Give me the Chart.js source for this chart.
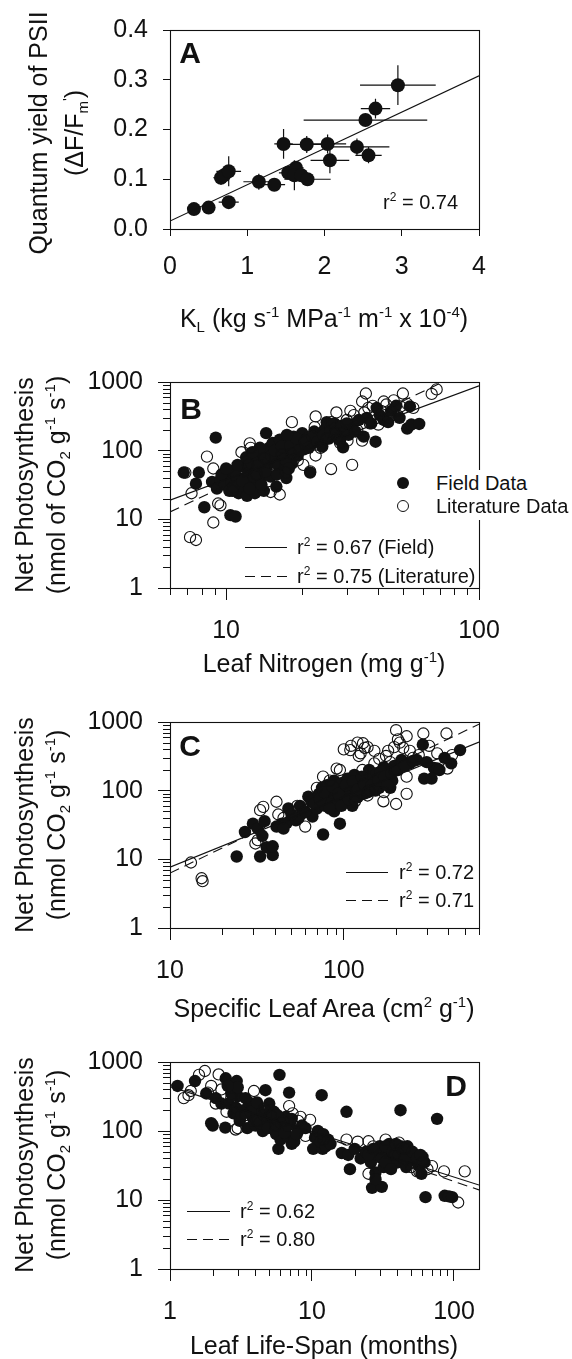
<!DOCTYPE html>
<html>
<head>
<meta charset="utf-8">
<script src="https://cdn.jsdelivr.net/npm/chart.js@4.4.1/dist/chart.umd.min.js"></script>
<style>
body { margin: 0; background: #fff; }
#page { position: relative; width: 572px; height: 1359px; overflow: hidden; color: #111;
        font-family: "Liberation Sans", Arial, Helvetica, sans-serif; }
canvas { position: absolute; left: 0; }
.yt, .xt { position: absolute; font-size: 25px; line-height: 1; white-space: nowrap; }
.yt { transform: translate(-50%, -50%) rotate(-90deg); }
.xt { transform: translate(-50%, -50%); }
.let { position: absolute; font-size: 30px; font-weight: bold; line-height: 1; transform: translate(-50%, -50%); }
.r2 { position: absolute; font-size: 20px; line-height: 1; white-space: nowrap; transform: translateY(-50%); }
.leg { position: absolute; font-size: 20px; line-height: 1; white-space: nowrap; transform: translateY(-50%); }
.sp { font-size: 0.6em; position: relative; top: -0.7em; }
.sb { font-size: 0.6em; position: relative; top: 0.35em; }
.ln { position: absolute; height: 1px; background: #111; }
.dash { position: absolute; height: 1px; background: repeating-linear-gradient(90deg, #111 0 10px, transparent 10px 16px); }
.dot { position: absolute; width: 12px; height: 12px; border-radius: 50%; transform: translate(-50%, -50%); box-sizing: border-box; }
</style>
</head>
<body>
<div id="page">
  <canvas id="cA" width="572" height="340" style="top:0"></canvas>
  <canvas id="cB" width="572" height="340" style="top:340px"></canvas>
  <canvas id="cC" width="572" height="340" style="top:680px"></canvas>
  <canvas id="cD" width="572" height="339" style="top:1020px"></canvas>

  <!-- panel A text -->
  <div class="yt" style="left:38px;top:133px">Quantum yield of PSII</div>
  <div class="yt" style="left:74px;top:133px">(&Delta;F/F<span class="sb">m</span><span class="sp">'</span>)</div>
  <div class="xt" style="left:324px;top:318px">K<span class="sb">L</span> (kg s<span class="sp">-1</span> MPa<span class="sp">-1</span> m<span class="sp">-1</span> x 10<span class="sp">-4</span>)</div>
  <div class="let" style="left:190px;top:53px">A</div>
  <div class="r2" style="left:383px;top:202px">r<span class="sp">2</span> = 0.74</div>

  <!-- panel B text -->
  <div class="yt" style="left:24px;top:485px">Net Photosynthesis</div>
  <div class="yt" style="left:56px;top:485px">(nmol of CO<span class="sb">2</span> g<span class="sp">-1</span> s<span class="sp">-1</span>)</div>
  <div class="xt" style="left:324px;top:663px">Leaf Nitrogen (mg g<span class="sp">-1</span>)</div>
  <div class="let" style="left:191px;top:409px">B</div>
  <div style="position:absolute;left:392px;top:470px;width:175px;height:50px;background:#fff"></div>
  <div class="dot" style="left:403px;top:483px;background:#111"></div>
  <div class="dot" style="left:403px;top:506px;border:1.2px solid #111;background:#fff"></div>
  <div class="leg" style="left:436px;top:483px">Field Data</div>
  <div class="leg" style="left:436px;top:506px">Literature Data</div>
  <div class="ln" style="left:245px;top:547px;width:42px"></div>
  <div class="dash" style="left:245px;top:576px;width:42px"></div>
  <div class="r2" style="left:297px;top:547px">r<span class="sp">2</span> = 0.67 (Field)</div>
  <div class="r2" style="left:297px;top:576px">r<span class="sp">2</span> = 0.75 (Literature)</div>

  <!-- panel C text -->
  <div class="yt" style="left:24px;top:825px">Net Photosynthesis</div>
  <div class="yt" style="left:56px;top:825px">(nmol CO<span class="sb">2</span> g<span class="sp">-1</span> s<span class="sp">-1</span>)</div>
  <div class="xt" style="left:324px;top:1008px">Specific Leaf Area (cm<span class="sp">2</span> g<span class="sp">-1</span>)</div>
  <div class="let" style="left:190px;top:746px">C</div>
  <div class="ln" style="left:346px;top:872px;width:42px"></div>
  <div class="dash" style="left:346px;top:900px;width:42px"></div>
  <div class="r2" style="left:399px;top:872px">r<span class="sp">2</span> = 0.72</div>
  <div class="r2" style="left:399px;top:900px">r<span class="sp">2</span> = 0.71</div>

  <!-- panel D text -->
  <div class="yt" style="left:24px;top:1165px">Net Photosynthesis</div>
  <div class="yt" style="left:56px;top:1165px">(nmol CO<span class="sb">2</span> g<span class="sp">-1</span> s<span class="sp">-1</span>)</div>
  <div class="xt" style="left:324px;top:1345px">Leaf Life-Span (months)</div>
  <div class="let" style="left:456px;top:1086px">D</div>
  <div class="ln" style="left:187px;top:1211px;width:43px"></div>
  <div class="dash" style="left:187px;top:1239px;width:43px"></div>
  <div class="r2" style="left:240px;top:1211px">r<span class="sp">2</span> = 0.62</div>
  <div class="r2" style="left:240px;top:1239px">r<span class="sp">2</span> = 0.80</div>
</div>

<script>
// ---- data ----
// A: leaf hydraulic conductance vs quantum yield, [KL, yield, KL error, yield error]
var aPoints = [
  [0.31, 0.040, 0.03, 0.004], [0.50, 0.043, 0.03, 0.004], [0.76, 0.054, 0.13, 0.006],
  [0.66, 0.103, 0.10, 0.014], [0.70, 0.108, 0.08, 0.012], [0.76, 0.116, 0.16, 0.030],
  [1.15, 0.095, 0.20, 0.016], [1.35, 0.089, 0.14, 0.005], [1.47, 0.171, 0.12, 0.030],
  [1.77, 0.170, 0.25, 0.017], [2.04, 0.171, 0.24, 0.019], [2.07, 0.138, 0.25, 0.026],
  [2.42, 0.165, 0.42, 0.017], [2.57, 0.148, 0.17, 0.016], [2.53, 0.219, 0.80, 0.006],
  [2.66, 0.242, 0.19, 0.020], [2.95, 0.289, 0.49, 0.040], [1.53, 0.113, 0.12, 0.010],
  [1.63, 0.123, 0.10, 0.008], [1.61, 0.108, 0.15, 0.030], [1.70, 0.108, 0.15, 0.010],
  [1.78, 0.100, 0.30, 0.008]
];
var aFitX = [0, 4];
var aFitY = [0.016, 0.308];

// B: leaf nitrogen (mg/g) vs net photosynthesis
var bField = [
  [6.8,48],[7.8,48],[7.6,33],[9.1,155],[8.2,15],[10.4,11.5],[10.9,11],
  [8.8,35],[9.2,28],[9.5,38],[9.9,32],[10.1,45],[10.3,26],[10.5,36],[10.8,52],[11.0,42],[11.2,24],
  [11.4,31],[11.7,58],[11.9,40],[12.1,22],[12.3,48],[12.6,66],[12.8,33],[13.0,24],[13.2,52],[13.5,75],
  [13.7,40],[14.0,90],[14.1,26],[14.4,180],[14.5,58],[14.8,110],[15.0,42],[15.3,130],[15.5,70],[15.8,30],
  [16.0,95],[16.3,145],[16.5,55],[16.8,80],[17.0,120],[17.3,40],[17.6,100],[17.9,140],[18.2,65],[18.5,160],
  [18.8,110],[19.2,85],[19.6,130],[20.0,180],[20.4,105],[20.9,150],[21.5,48],[21.8,125],[22.3,190],[22.8,140],
  [23.4,170],[24.0,115],[24.5,200],[25.0,260],[25.5,150],[26.0,220],[26.8,250],[27.5,180],[28.2,140],[29.0,112],
  [29.5,210],[30.5,170],[31.5,240],[32.5,190],[33.5,280],[35.0,160],[36.0,300],[37.5,250],[39.0,135],[39.4,420],
  [40.5,330],[42.0,280],[43.7,260],[45.0,380],[47.0,450],[48.5,300],[52.0,210],[53.3,440],[54.0,240],[58.0,245],
  [9.6,45],[10.0,55],[10.7,30],[11.1,62],[11.6,36],[12.0,80],[12.4,28],[12.9,42],[13.3,60],[13.8,32],
  [14.3,50],[14.7,68],[15.1,85],[15.6,100],[16.1,60],[16.6,115],[17.1,75],[17.7,55],[18.0,120],[18.6,90],
  [19.0,150],[19.5,100],[20.5,130],[21.2,110],[22.0,160],[23.0,135],[24.2,170],[25.8,190],[27.0,210],
  [28.5,230],[30.0,250],[13.6,110],[12.7,95],[15.9,45],[17.4,170]
];
var bLit = [
  [6.9,48],[7.3,24],[7.2,5.5],[7.6,5.0],[8.4,82],[8.9,9],[8.9,55],[9.3,17],[9.5,16],[10.6,26],[11.5,95],
  [12.4,128],[12.5,110],[12.2,62],[13.2,45],[14.2,78],[15.0,25],[16.3,23],[15.6,62],[16.6,88],[17.2,48],
  [18.2,260],[18.1,90],[19.2,72],[20.2,62],[21.5,50],[22.6,315],[22.6,85],[22.4,220],[23.6,110],[25.0,150],
  [26.0,54],[27.3,360],[27.0,180],[28.2,130],[29.2,185],[30.2,140],[31.0,380],[31.5,62],[33.0,200],[34.5,520],
  [34.5,140],[35.2,360],[35.7,680],[37.0,250],[38.0,450],[40.0,240],[41.0,380],[43.0,470],[45.0,370],[46.0,540],
  [48.0,320],[50.0,680],[52.0,480],[55.0,420],[65.0,670],[68.0,780],[30.0,280],[26.0,260],[20.5,140],[36.5,420],
  [42.0,520],[44.0,300],[49.0,440],[32.0,330]
];
var bFieldFitX = [6, 100], bFieldFitY = [19, 880];
var bLitFitX = [6, 100], bLitFitY = [12.8, 1780];

// C: specific leaf area (cm2/g) vs net photosynthesis
var cField = [
  [24.2,11],[33,11],[39,11.5],[36,15],[39,15.5],[27,25],[30,33],[32,28],[34,22],[35,36],[41,30],[44,33],
  [47,34],[53,37],[48,55],[56,60],[62.5,82],[58,47],[66,42],[76,23],[80,85],[88,50],[95,33],
  [65,70],[70,55],[72,90],[75,110],[78,60],[80,120],[82,75],[85,95],[88,140],[90,62],[92,110],[95,80],
  [98,130],[100,100],[102,70],[105,150],[108,90],[110,120],[112,60],[115,170],[118,100],[120,80],[123,140],
  [126,110],[130,90],[133,160],[136,120],[140,200],[143,100],[146,150],[150,130],[155,180],[160,110],
  [165,150],[170,220],[175,130],[180,170],[185,110],[190,140],
  [215,280],[240,250],[263,280],[285,470],[290,150],[330,215],[345,210],[355,200],[415,250],[467,390],
  [300,260],[380,300],[320,150],
  [68,65],[73,75],[77,95],[83,55],[86,115],[93,90],[97,60],[103,120],[107,75],[113,135],[117,85],
  [121,105],[127,160],[131,125],[138,95],[145,120],[152,100],[158,140],[163,190],[172,160],[178,120],
  [188,180],[195,230],[205,200],[225,230],[250,270],[55,40],[60,50],[45,28],[50,45]
];
var cLit = [
  [13.2,9],[15.2,5.3],[15.4,4.8],[34.4,58],[33,52],[41,69],[42,45],[31,17],[32,19],[54,60],[76,160],
  [91,210],[109,390],[129,490],[137,430],[200,760],[205,560],[195,430],[287,680],[390,680],[345,350],
  [395,210],[230,160],[230,90],[200,64],[169,70],[137,85],[116,70],[140,100],[170,95],[100,400],[122,320],
  [160,290],[128,200],[195,200],[95,200],[83,140],[110,450],[120,500],[125,350],[132,420],[150,380],
  [175,320],[180,380],[210,500],[220,420],[240,380],[250,300],[270,330],[310,450],[230,620],[420,330],
  [60,30],[45,40],[70,110],[150,250],[185,260]
];
var cFieldFitX = [10, 600], cFieldFitY = [7.7, 510];
var cLitFitX = [10, 600], cLitFitY = [6.3, 930];

// D: leaf life-span (months) vs net photosynthesis
var dField = [
  [1.13,450],[1.5,530],[1.95,130],[2.0,120],[2.45,112],[2.47,580],[2.95,530],[5.9,650],[6.9,360],[4.7,390],
  [11.7,330],[17.5,190],[42,200],[76,150],[18.5,28],[26.5,15],[31,15.5],[63,11],[86,11.5],[92,11.3],[97,11],
  [59,24],[5.8,55],[7.2,65],[10.2,55],[11.9,55],[16.2,48],
  [1.8,350],[2.1,300],[2.3,250],[2.6,250],[2.8,180],[3.0,320],[3.1,140],[3.3,200],[3.5,110],[3.6,260],
  [3.8,160],[4.0,120],[4.2,220],[4.4,180],[4.5,100],[4.8,150],[5.0,250],[5.2,120],[5.4,190],[5.6,90],
  [5.8,140],[6.0,75],[6.2,110],[6.5,160],[6.7,85],[7.0,130],[7.5,70],[8.0,100],[8.5,120],[9.0,110],
  [10.5,80],[11,100],[11.5,70],[12,90],[12.5,60],[13,75],[13.5,65],
  [18,45],[20,55],[22,40],[24,50],[26,35],[28,25],[29,45],[30,60],[32,30],[34,50],[35,65],[36,40],
  [38,55],[40,35],[42,60],[44,45],[46,30],[48,50],[50,38],[53,45],[56,32],[60,42],[62,35],[28,20],
  [2.7,350],[2.9,220],[3.2,170],[3.4,300],[3.7,190],[3.9,140],[4.1,260],[4.3,130],[4.6,170],[4.9,110],
  [5.1,200],[5.3,160],[5.5,100],[5.7,170],[6.1,130],[6.4,95],[6.8,120],[7.2,150],[7.8,90],[3.0,430],
  [2.55,450],[25,45],[27,55],[31,40],[33,60],[37,50],[39,65],[41,45],[43,55],[45,40],[47,60],[51,50],
  [55,40],[58,45],[33,35],[36,28]
];
var dLit = [
  [1.76,740],[1.6,650],[2.2,660],[1.35,330],[1.4,380],[1.95,450],[1.85,360],[2.1,250],[2.5,190],[2.9,105],
  [3.9,380],[6.9,230],[9.7,145],[8.3,160],[9.0,85],[17.5,75],[25,71],[41,68],[25,24],[70,31],[85,26],
  [119,26],[107,9.2],[55,26],[12,75],[2.3,400],[2.7,300],[3.2,230],[3.4,170],[4.1,140],[4.6,210],
  [5.1,170],[5.5,120],[6.3,140],[7.3,180],[8.0,140],[21,70],[27,60],[33,75],[38,45],[45,55],[50,30],
  [57,26],[65,28],[60,35],[3.0,110],[1.25,300]
];
var dFieldFitX = [1, 150], dFieldFitY = [440, 16.5];
var dLitFitX = [1, 150], dLitFitY = [470, 14];

// tick values
var aXTicks = [0, 1, 2, 3, 4];
var aYTicks = [0, 0.1, 0.2, 0.3, 0.4];
var logYMajor = [1, 10, 100, 1000];
var logYMinor = [2,3,4,5,6,7,8,9,20,30,40,50,60,70,80,90,200,300,400,500,600,700,800,900];
var bXMajor = [10, 100];
var bXMinor = [6,7,8,9,20,30,40,50,60,70,80,90];
var cXMajor = [10, 100];
var cXMinor = [20,30,40,50,60,70,80,90,200,300,400,500,600];
var dXMajor = [1, 10, 100];
var dXMinor = [2,3,4,5,6,7,8,9,20,30,40,50,60,70,80,90];

var INK = '#111';
var FONT = '"Liberation Sans", Arial, Helvetica, sans-serif';

// frame round the plot area
var boxPlugin = {
  id: 'box',
  afterDatasetsDraw: function (chart) {
    var a = chart.chartArea, ctx = chart.ctx;
    ctx.save();
    ctx.strokeStyle = INK;
    ctx.lineWidth = 1.1;
    ctx.strokeRect(Math.round(a.left) + 0.5, Math.round(a.top) + 0.5, Math.round(a.right - a.left), Math.round(a.bottom - a.top));
    ctx.restore();
  }
};

// short outside ticks for the log axes
var minorPlugin = {
  id: 'minorTicks',
  afterDraw: function (chart, args, o) {
    if (!o || !o.len) return;
    var a = chart.chartArea, ctx = chart.ctx, sx = chart.scales.x, sy = chart.scales.y;
    ctx.save();
    ctx.strokeStyle = INK;
    ctx.lineWidth = 1;
    ctx.beginPath();
    (o.x || []).forEach(function (v) {
      var p = Math.round(sx.getPixelForValue(v)) + 0.5;
      ctx.moveTo(p, a.bottom); ctx.lineTo(p, a.bottom + o.len);
    });
    (o.y || []).forEach(function (v) {
      var p = Math.round(sy.getPixelForValue(v)) + 0.5;
      ctx.moveTo(a.left - o.len, p); ctx.lineTo(a.left, p);
    });
    ctx.stroke();
    ctx.restore();
  }
};

// error bars for panel A
var errPlugin = {
  id: 'errorBars',
  beforeDatasetsDraw: function (chart, args, o) {
    if (!o || !o.points) return;
    var ctx = chart.ctx, sx = chart.scales.x, sy = chart.scales.y;
    ctx.save();
    ctx.strokeStyle = INK;
    ctx.lineWidth = 1.2;
    ctx.beginPath();
    o.points.forEach(function (p) {
      var x = sx.getPixelForValue(p[0]), y = sy.getPixelForValue(p[1]);
      ctx.moveTo(sx.getPixelForValue(p[0] - p[2]), y); ctx.lineTo(sx.getPixelForValue(p[0] + p[2]), y);
      ctx.moveTo(x, sy.getPixelForValue(p[1] - p[3])); ctx.lineTo(x, sy.getPixelForValue(p[1] + p[3]));
    });
    ctx.stroke();
    ctx.restore();
  }
};

function pts(arr) {
  return arr.map(function (p) { return { x: p[0], y: p[1] }; });
}

function fitLine(xs, ys, dash) {
  return {
    data: [{ x: xs[0], y: ys[0] }, { x: xs[1], y: ys[1] }],
    showLine: true, borderColor: INK, borderWidth: 1.1, borderDash: dash,
    pointRadius: 0, fill: false, order: 0
  };
}

function field(arr, r) {
  return { data: pts(arr), pointRadius: r, backgroundColor: INK, borderColor: INK, borderWidth: 0, order: 2 };
}

// open symbols are hollow: outlines show through each other
function lit(arr) {
  return { data: pts(arr), pointRadius: 5.6, backgroundColor: 'rgba(0,0,0,0)', borderColor: INK, borderWidth: 1.1, order: 1 };
}

function axis(o) {
  return {
    type: o.log ? 'logarithmic' : 'linear',
    min: o.min, max: o.max,
    afterBuildTicks: function (s) { s.ticks = o.major.map(function (v) { return { value: v }; }); },
    afterFit: function (s) { if (o.w) s.width = o.w; if (o.h) s.height = o.h; },
    border: { display: false },
    grid: { drawOnChartArea: false, drawTicks: true, tickLength: o.tl, color: INK, lineWidth: 1 },
    ticks: {
      autoSkip: false, maxRotation: 0, padding: o.pad, color: INK,
      font: { family: FONT, size: 25 },
      callback: o.fmt || function (v) { return String(v); }
    }
  };
}

function panel(id, cfg) {
  new Chart(document.getElementById(id), {
    type: 'scatter',
    data: { datasets: cfg.datasets },
    options: {
      responsive: false, animation: false, devicePixelRatio: 1,
      layout: { padding: { top: cfg.top, right: 93, left: 0, bottom: 0 } },
      plugins: {
        legend: { display: false }, tooltip: { enabled: false },
        minorTicks: cfg.minor || {}, errorBars: cfg.err || {}
      },
      scales: { x: cfg.x, y: cfg.y }
    },
    plugins: [boxPlugin, minorPlugin, errPlugin]
  });
}

Chart.defaults.font.family = FONT;

panel('cA', {
  top: 23,
  datasets: [
    fitLine(aFitX, aFitY, []),
    field(aPoints.map(function (p) { return [p[0], p[1]]; }), 7)
  ],
  err: { points: aPoints },
  x: axis({ min: 0, max: 4, major: aXTicks, tl: 7, pad: 16, h: 111 }),
  y: axis({ min: 0, max: 0.4, major: aYTicks, tl: 7, pad: 15, w: 170, fmt: function (v) { return v.toFixed(1); } })
});

panel('cB', {
  top: 42,
  datasets: [fitLine(bFieldFitX, bFieldFitY, []), fitLine(bLitFitX, bLitFitY, [10, 6]), lit(bLit), field(bField, 6.2)],
  minor: { x: bXMinor, y: logYMinor, len: 7 },
  x: axis({ log: true, min: 6, max: 100, major: bXMajor, tl: 12, pad: 16, h: 92 }),
  y: axis({ log: true, min: 1, max: 1000, major: logYMajor, tl: 12, pad: 15, w: 170 })
});

panel('cC', {
  top: 42,
  datasets: [fitLine(cFieldFitX, cFieldFitY, []), fitLine(cLitFitX, cLitFitY, [10, 6]), lit(cLit), field(cField, 6.2)],
  minor: { x: cXMinor, y: logYMinor, len: 7 },
  x: axis({ log: true, min: 10, max: 600, major: cXMajor, tl: 12, pad: 16, h: 92 }),
  y: axis({ log: true, min: 1, max: 1000, major: logYMajor, tl: 12, pad: 15, w: 170 })
});

panel('cD', {
  top: 42,
  datasets: [fitLine(dFieldFitX, dFieldFitY, []), fitLine(dLitFitX, dLitFitY, [10, 6]), lit(dLit), field(dField, 6.2)],
  minor: { x: dXMinor, y: logYMinor, len: 7 },
  x: axis({ log: true, min: 1, max: 150, major: dXMajor, tl: 12, pad: 16, h: 90 }),
  y: axis({ log: true, min: 1, max: 1000, major: logYMajor, tl: 12, pad: 15, w: 170 })
});
</script>
</body>
</html>
